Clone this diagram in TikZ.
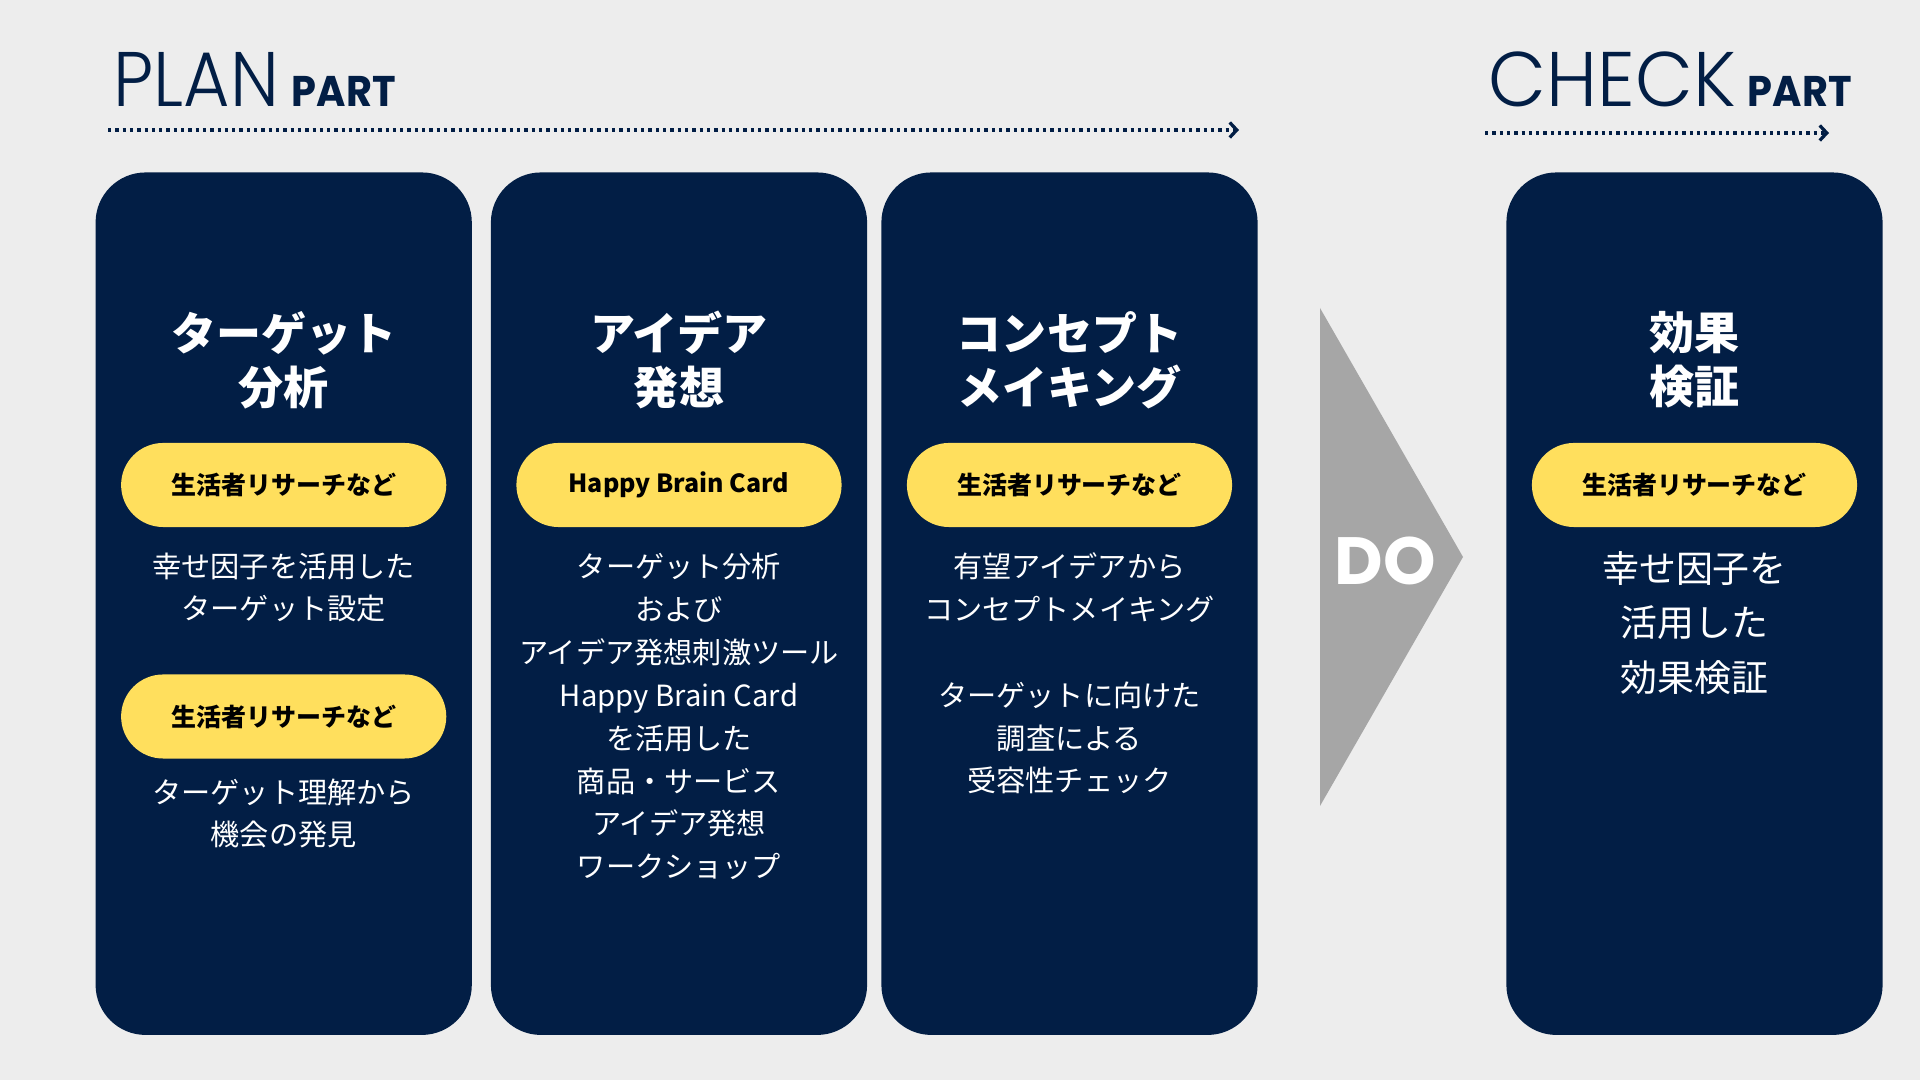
\documentclass[tikz,border=0pt]{standalone}
\usepackage{fontspec}
\setmainfont{Noto Sans CJK JP}
\newfontfamily\geolight{Poppins Light}
\newfontfamily\geo{Poppins}
\usetikzlibrary{arrows.meta}
\definecolor{navy}{HTML}{021E45}
\definecolor{pillyellow}{HTML}{FFDF5D}
\definecolor{dogray}{HTML}{A6A6A6}
\definecolor{bggray}{HTML}{EDEDED}
\tikzset{
  colbox/.style={fill=navy, rounded corners=0.5cm, minimum width=3.76cm, minimum height=8.62cm, inner sep=0pt},
  pill/.style={fill=pillyellow, rounded corners=0.42cm, minimum width=3.25cm, minimum height=0.84cm, text=black, font=\bfseries\fontsize{7.1}{8.5}\selectfont},
  head/.style={text=white, align=center, font=\bfseries\fontsize{12.8}{15.4}\selectfont},
  body/.style={text=white, align=center, font=\fontsize{8.3}{12.2}\selectfont},
  bigbody/.style={text=white, align=center, font=\fontsize{10.5}{15.4}\selectfont},
  bigtitle/.style={anchor=base west, inner sep=0pt, text=navy, font=\geolight\fontsize{22}{22}\selectfont},
  parttitle/.style={anchor=base west, inner sep=0pt, text=navy, font=\geo\bfseries\fontsize{12.2}{12.2}\selectfont},
  dotline/.style={navy, line width=0.033cm, dash pattern=on 0.033cm off 0.04cm, -{Straight Barb[length=0.07cm, width=0.15cm]}}
}
\begin{document}
\begin{tikzpicture}[x=0.01cm, y=-0.01cm]
  \fill[bggray] (0,0) rectangle (1920,1080);
  % titles
  \node[bigtitle] (plan) at (113,107) {\scalebox{0.92}[1]{PLAN}};
  \node[parttitle] (planpart) at (291,107) {\scalebox{0.93}[1]{PART}};
  \node[bigtitle] (check) at (1488,107) {\scalebox{0.97}[1]{CHECK}};
  \node[parttitle] (checkpart) at (1747,107) {\scalebox{0.93}[1]{PART}};
  \coordinate (pa) at (108,130);
  \coordinate (pb) at (1239,130);
  \coordinate (ca) at (1485,133);
  \coordinate (cb) at (1829,133);
  \draw[dotline] (pa) -- (pb);
  \draw[dotline] (ca) -- (cb);
  % columns
  \foreach \c/\x in {c1/283.7, c2/679, c3/1069.5, c4/1694.5}
    \node[colbox] (\c) at (\x,603.7) {};
  \node[head] (h1) at (283.7,360) {ターゲット\\分析};
  \node[head] (h2) at (679,360) {アイデア\\発想};
  \node[head] (h3) at (1069.5,360) {コンセプト\\メイキング};
  \node[head] (h4) at (1694.5,360) {効果\\検証};
  \node[pill] (p1) at (283.7,485) {生活者リサーチなど};
  \node[pill] (p1b) at (283.7,716.5) {生活者リサーチなど};
  \node[pill] (p2) at (679,485) {Happy Brain Card};
  \node[pill] (p3) at (1069.5,485) {生活者リサーチなど};
  \node[pill] (p4) at (1694.5,485) {生活者リサーチなど};
  \node[body] (t1) at (283.7,587.5) {幸せ因子を活用した\\ターゲット設定};
  \node[body] (t1b) at (283.7,813.5) {ターゲット理解から\\機会の発見};
  \node[body] (t2) at (679,716.5) {ターゲット分析\\および\\アイデア発想刺激ツール\\Happy Brain Card\\を活用した\\商品・サービス\\アイデア発想\\ワークショップ};
  \node[body] (t3) at (1069.5,673.5) {有望アイデアから\\コンセプトメイキング\\[12.2pt]ターゲットに向けた\\調査による\\受容性チェック};
  \node[bigbody] (t4) at (1694.5,623) {幸せ因子を\\活用した\\効果検証};
  % do arrow
  \fill[dogray] (1320,308) -- (1463,557) -- (1320,806) -- cycle;
  \node[text=white, font=\geo\bfseries\fontsize{19}{19}\selectfont] (do) at (1385,561) {DO};
\end{tikzpicture}
\end{document}
